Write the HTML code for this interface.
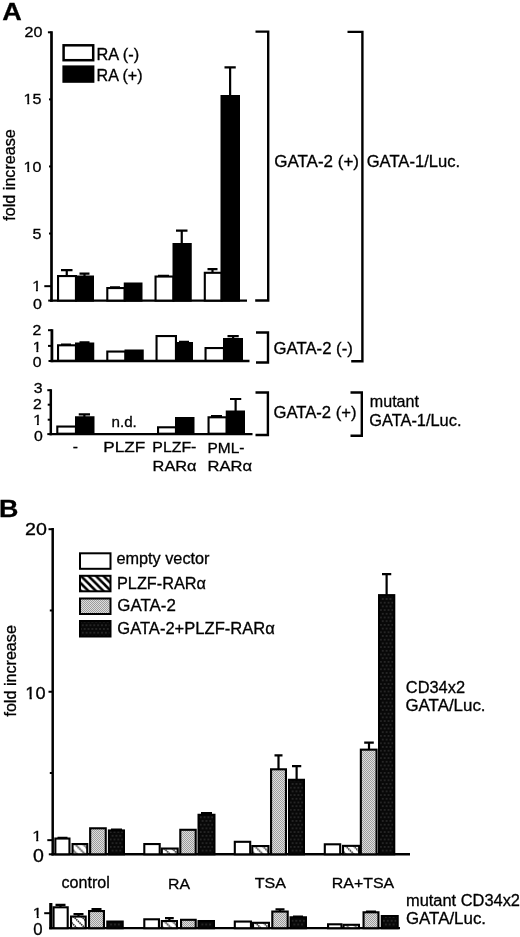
<!DOCTYPE html>
<html><head><meta charset="utf-8"><title>Figure</title>
<style>
html,body{margin:0;padding:0;background:#fff}
svg{display:block}
text{font-family:"Liberation Sans",Arial,Helvetica,sans-serif;fill:#000;stroke:#000;stroke-width:0.3px}
</style></head><body>
<svg width="520" height="937" viewBox="0 0 520 937">
<defs>
<pattern id="hatch" width="7.5" height="7.5" patternUnits="userSpaceOnUse">
<rect width="7.5" height="7.5" fill="#fff"/>
<path d="M-3.75 -3.75L11.25 11.25M-3.75 3.75L3.75 11.25M3.75 -3.75L11.25 3.75" stroke="#000" stroke-width="2.55"/>
</pattern>
<pattern id="hatch2" width="8" height="8" patternUnits="userSpaceOnUse">
<rect width="8" height="8" fill="#fff"/>
<path d="M-2 -2L10 10M-2 6L2 10M6 -2L10 2" stroke="#1a1a1a" stroke-width="1.5" stroke-dasharray="1.6 0.7"/>
</pattern>
<pattern id="gray" width="2" height="2" patternUnits="userSpaceOnUse">
<rect width="2" height="2" fill="#dedede"/>
<rect width="1" height="1" fill="#9c9c9c"/><rect x="1" y="1" width="1" height="1" fill="#9c9c9c"/>
</pattern>
<pattern id="dark" width="3.85" height="7.4" patternUnits="userSpaceOnUse">
<rect width="3.85" height="7.4" fill="#080808"/>
<rect x="1.35" y="3.15" width="1.1" height="1.05" fill="#606060"/>
<rect x="-0.58" y="6.85" width="1.1" height="1.05" fill="#606060"/><rect x="3.27" y="6.85" width="1.1" height="1.05" fill="#606060"/>
<rect x="-0.58" y="-0.55" width="1.1" height="1.05" fill="#606060"/><rect x="3.27" y="-0.55" width="1.1" height="1.05" fill="#606060"/>
</pattern>
</defs>
<rect width="520" height="937" fill="#fff"/>

<text transform="translate(2.2 19.7) scale(1.09 1)" font-size="24.8" font-weight="bold">A</text>
<path d="M51.5 31.3V301.80" stroke="#000" stroke-width="2.7" fill="none"/>
<path d="M50.15 300.6H247" stroke="#000" stroke-width="2.4" fill="none"/>
<path d="M47.9 32.30000000000001H51.5" stroke="#000" stroke-width="2"/>
<path d="M49 99.375H51.5" stroke="#000" stroke-width="2"/>
<path d="M49 166.45000000000002H51.5" stroke="#000" stroke-width="2"/>
<path d="M49 233.52500000000003H51.5" stroke="#000" stroke-width="2"/>
<path d="M44.3 286.178875H51.5" stroke="#000" stroke-width="2"/>
<path d="M48.2 300.6H51.5" stroke="#000" stroke-width="2"/>
<text transform="translate(42.4 37.4) scale(1.13 1)" font-size="14.2" text-anchor="end">20</text>
<clipPath id="c1"><rect x="-142.00" y="-14.20" width="156.20" height="11.83"/><rect x="-7.90" y="-2.87" width="7.90" height="3.87"/><rect x="-12.46" y="-2.87" width="1.70" height="3.87"/></clipPath>
<text transform="translate(41.4 104.3) scale(1.13 1)" font-size="14.2" text-anchor="end" clip-path="url(#c1)">15</text>
<clipPath id="c2"><rect x="-142.00" y="-14.20" width="156.20" height="11.83"/><rect x="-7.90" y="-2.87" width="7.90" height="3.87"/><rect x="-12.46" y="-2.87" width="1.70" height="3.87"/></clipPath>
<text transform="translate(41.4 171.6) scale(1.13 1)" font-size="14.2" text-anchor="end" clip-path="url(#c2)">10</text>
<text transform="translate(41.3 239.1) scale(1.13 1)" font-size="14.2" text-anchor="end">5</text>
<clipPath id="c3"><rect x="-142.00" y="-14.20" width="156.20" height="11.83"/><rect x="-4.56" y="-2.87" width="1.70" height="3.87"/></clipPath>
<text transform="translate(41.1 291.4) scale(1.13 1)" font-size="14.2" text-anchor="end" clip-path="url(#c3)">1</text>
<text transform="translate(41.8 309.0) scale(1.13 1)" font-size="14.2" text-anchor="end">0</text>
<rect x="58.05" y="276.05" width="17.90" height="24.55" fill="#fff" stroke="#000" stroke-width="2.1"/>
<path d="M66.75 276.00V270.00M61.00 270.10H72.50" stroke="#000" stroke-width="2.2" fill="none"/>
<rect x="76.05" y="276.55" width="16.90" height="24.05" fill="#000" stroke="#000" stroke-width="2.1"/>
<path d="M84.50 276.50V273.50M79.50 273.60H89.50" stroke="#000" stroke-width="2.2" fill="none"/>
<rect x="107.30" y="288.05" width="17.40" height="12.55" fill="#fff" stroke="#000" stroke-width="2.1"/>
<path d="M115.00 288.00V287.30M110.00 287.40H120.00" stroke="#000" stroke-width="2.2" fill="none"/>
<rect x="124.80" y="283.55" width="16.65" height="17.05" fill="#000" stroke="#000" stroke-width="2.1"/>
<rect x="155.55" y="276.55" width="17.90" height="24.05" fill="#fff" stroke="#000" stroke-width="2.1"/>
<path d="M163.50 276.50V275.80M158.00 275.90H169.00" stroke="#000" stroke-width="2.2" fill="none"/>
<rect x="173.55" y="244.05" width="17.15" height="56.55" fill="#000" stroke="#000" stroke-width="2.1"/>
<path d="M181.75 244.00V230.50M176.00 230.60H187.50" stroke="#000" stroke-width="2.2" fill="none"/>
<rect x="204.80" y="272.80" width="16.90" height="27.80" fill="#fff" stroke="#000" stroke-width="2.1"/>
<path d="M212.50 272.75V269.00M207.50 269.10H217.50" stroke="#000" stroke-width="2.2" fill="none"/>
<rect x="221.55" y="96.05" width="17.40" height="204.55" fill="#000" stroke="#000" stroke-width="2.1"/>
<path d="M230.12 96.00V67.25M224.50 67.35H235.75" stroke="#000" stroke-width="2.2" fill="none"/>
<rect x="63.6" y="45.3" width="29.6" height="14.9" fill="#fff" stroke="#000" stroke-width="2.5"/>
<rect x="62.4" y="65.4" width="32" height="17.4" fill="#000"/>
<text x="96.50" y="60.10" font-size="15.6" textLength="42.70" lengthAdjust="spacingAndGlyphs">RA (-)</text>
<text x="96.50" y="80.60" font-size="15.6" textLength="46.10" lengthAdjust="spacingAndGlyphs">RA (+)</text>
<text transform="translate(15.0 220.7) rotate(-90)" font-size="16" textLength="91.5" lengthAdjust="spacingAndGlyphs">fold increase</text>
<path d="M51.9 329.2V362.15" stroke="#000" stroke-width="2.8" fill="none"/>
<path d="M50.50 361.0H249.5" stroke="#000" stroke-width="2.3" fill="none"/>
<path d="M48 330.2H51.9" stroke="#000" stroke-width="2"/>
<path d="M48 345.9H51.9" stroke="#000" stroke-width="2"/>
<path d="M48.5 361.0H51.9" stroke="#000" stroke-width="2"/>
<text transform="translate(41.3 335.1) scale(1.13 1)" font-size="14.0" text-anchor="end">2</text>
<clipPath id="c4"><rect x="-140.00" y="-14.00" width="154.00" height="11.65"/><rect x="-4.50" y="-2.85" width="1.68" height="3.85"/></clipPath>
<text transform="translate(41.5 351.8) scale(1.13 1)" font-size="14.0" text-anchor="end" clip-path="url(#c4)">1</text>
<text transform="translate(41.5 366.8) scale(1.13 1)" font-size="14.0" text-anchor="end">0</text>
<rect x="58.05" y="345.30" width="17.90" height="15.40" fill="#fff" stroke="#000" stroke-width="2.1"/>
<path d="M66.00 345.25V344.60M61.00 344.70H71.00" stroke="#000" stroke-width="2.2" fill="none"/>
<rect x="76.05" y="343.55" width="17.15" height="17.15" fill="#000" stroke="#000" stroke-width="2.1"/>
<path d="M84.50 343.50V342.30M79.50 342.40H89.50" stroke="#000" stroke-width="2.2" fill="none"/>
<rect x="107.30" y="351.55" width="18.15" height="9.15" fill="#fff" stroke="#000" stroke-width="2.1"/>
<rect x="125.55" y="350.55" width="17.15" height="10.15" fill="#000" stroke="#000" stroke-width="2.1"/>
<rect x="156.55" y="336.05" width="19.40" height="24.65" fill="#fff" stroke="#000" stroke-width="2.1"/>
<rect x="176.05" y="343.05" width="15.90" height="17.65" fill="#000" stroke="#000" stroke-width="2.1"/>
<path d="M184.00 343.00V341.80M179.00 341.90H189.00" stroke="#000" stroke-width="2.2" fill="none"/>
<rect x="205.55" y="348.05" width="18.40" height="12.65" fill="#fff" stroke="#000" stroke-width="2.1"/>
<rect x="224.05" y="339.05" width="17.90" height="21.65" fill="#000" stroke="#000" stroke-width="2.1"/>
<path d="M233.12 339.00V336.00M227.50 336.10H238.75" stroke="#000" stroke-width="2.2" fill="none"/>
<path d="M50.8 389.2V435.25" stroke="#000" stroke-width="2.5" fill="none"/>
<path d="M49.55 434.09999999999997H252.5" stroke="#000" stroke-width="2.3" fill="none"/>
<path d="M47.3 390.2H50.8" stroke="#000" stroke-width="2"/>
<path d="M47.7 404.7H50.8" stroke="#000" stroke-width="2"/>
<path d="M47.7 419.7H50.8" stroke="#000" stroke-width="2"/>
<path d="M47.3 434.09999999999997H50.8" stroke="#000" stroke-width="2"/>
<text transform="translate(42.5 392.6) scale(1.13 1)" font-size="14.0" text-anchor="end">3</text>
<text transform="translate(41.8 409.2) scale(1.13 1)" font-size="14.0" text-anchor="end">2</text>
<clipPath id="c5"><rect x="-140.00" y="-14.00" width="154.00" height="11.65"/><rect x="-4.50" y="-2.85" width="1.68" height="3.85"/></clipPath>
<text transform="translate(42.0 424.6) scale(1.13 1)" font-size="14.0" text-anchor="end" clip-path="url(#c5)">1</text>
<text transform="translate(42.9 441.3) scale(1.13 1)" font-size="14.0" text-anchor="end">0</text>
<rect x="57.30" y="426.55" width="18.65" height="7.15" fill="#fff" stroke="#000" stroke-width="2.1"/>
<rect x="76.05" y="417.30" width="17.40" height="16.40" fill="#000" stroke="#000" stroke-width="2.1"/>
<path d="M84.38 417.25V414.25M78.75 414.35H90.00" stroke="#000" stroke-width="2.2" fill="none"/>
<rect x="158.05" y="427.30" width="17.90" height="6.40" fill="#fff" stroke="#000" stroke-width="2.1"/>
<rect x="176.05" y="418.05" width="17.40" height="15.65" fill="#000" stroke="#000" stroke-width="2.1"/>
<rect x="208.55" y="417.30" width="18.15" height="16.40" fill="#fff" stroke="#000" stroke-width="2.1"/>
<path d="M216.50 417.25V416.00M211.00 416.10H222.00" stroke="#000" stroke-width="2.2" fill="none"/>
<rect x="226.80" y="411.55" width="17.15" height="22.15" fill="#000" stroke="#000" stroke-width="2.1"/>
<path d="M235.62 411.50V398.90M230.00 399.00H241.25" stroke="#000" stroke-width="2.2" fill="none"/>
<text x="111.50" y="427.20" font-size="15" textLength="25.30" lengthAdjust="spacingAndGlyphs">n.d.</text>
<text x="72.80" y="452.30" font-size="15" textLength="5.20" lengthAdjust="spacingAndGlyphs">-</text>
<text x="103.20" y="452.40" font-size="15.1" textLength="42.00" lengthAdjust="spacingAndGlyphs">PLZF</text>
<text x="152.30" y="452.40" font-size="15.1" textLength="44.10" lengthAdjust="spacingAndGlyphs">PLZF-</text>
<text x="152.60" y="471.00" font-size="15.1" textLength="44.00" lengthAdjust="spacingAndGlyphs">RARα</text>
<text x="207.50" y="452.60" font-size="15.1" textLength="37.00" lengthAdjust="spacingAndGlyphs">PML-</text>
<text x="207.50" y="471.00" font-size="15.1" textLength="44.50" lengthAdjust="spacingAndGlyphs">RARα</text>
<path d="M255.5 31.6L268.2 31.6L268.2 300.5L255.2 300.5" stroke="#000" stroke-width="2.4" fill="none"/>
<path d="M256 332.5L268 332.5L268 362.5L256 362.5" stroke="#000" stroke-width="2.4" fill="none"/>
<path d="M255.5 392.5L267.9 392.5L267.9 435L255.5 435" stroke="#000" stroke-width="2.4" fill="none"/>
<path d="M347.5 31.9L362.4 31.9L362.4 361.2L351.2 361.2" stroke="#000" stroke-width="2.4" fill="none"/>
<path d="M350.5 392.5L361.8 392.5L361.8 435.8L350.5 435.8" stroke="#000" stroke-width="2.4" fill="none"/>
<text x="274.20" y="166.80" font-size="16.3" textLength="84.80" lengthAdjust="spacingAndGlyphs">GATA-2 (+)</text>
<text x="366.70" y="167.00" font-size="16.3" textLength="93.50" lengthAdjust="spacingAndGlyphs">GATA-1/Luc.</text>
<text x="273.50" y="354.20" font-size="16.3" textLength="79.30" lengthAdjust="spacingAndGlyphs">GATA-2 (-)</text>
<text x="273.50" y="417.50" font-size="16.3" textLength="83.00" lengthAdjust="spacingAndGlyphs">GATA-2 (+)</text>
<text x="369.80" y="406.80" font-size="16.3" textLength="49.20" lengthAdjust="spacingAndGlyphs">mutant</text>
<text x="369.20" y="425.80" font-size="16.3" textLength="92.30" lengthAdjust="spacingAndGlyphs">GATA-1/Luc.</text>
<text transform="translate(-1.0 516.9) scale(1.1 1)" font-size="24.4" font-weight="bold">B</text>
<path d="M52.7 528V855.55" stroke="#000" stroke-width="2.5" fill="none"/>
<path d="M51.45 854.3H410" stroke="#000" stroke-width="2.5" fill="none"/>
<path d="M48.5 529.2H52.7" stroke="#000" stroke-width="2"/>
<path d="M49.8 610.475H52.7" stroke="#000" stroke-width="2"/>
<path d="M48.5 691.75H52.7" stroke="#000" stroke-width="2"/>
<path d="M49.8 773.025H52.7" stroke="#000" stroke-width="2"/>
<path d="M47.3 840.15815H52.7" stroke="#000" stroke-width="2"/>
<path d="M48.8 854.3H52.7" stroke="#000" stroke-width="2"/>
<text transform="translate(46.9 534.6) scale(1.13 1)" font-size="17.4" text-anchor="end">20</text>
<clipPath id="c6"><rect x="-173.00" y="-17.30" width="190.30" height="14.70"/><rect x="-9.62" y="-3.10" width="9.62" height="4.10"/><rect x="-15.18" y="-3.10" width="2.08" height="4.10"/></clipPath>
<text transform="translate(45.5 699.0) scale(1.05 1)" font-size="17.3" text-anchor="end" clip-path="url(#c6)">10</text>
<clipPath id="c7"><rect x="-148.00" y="-14.80" width="162.80" height="12.39"/><rect x="-4.75" y="-2.91" width="1.78" height="3.91"/></clipPath>
<text transform="translate(41.7 840.9) scale(1.15 1)" font-size="14.8" text-anchor="end" clip-path="url(#c7)">1</text>
<text transform="translate(43.9 861.8) scale(1.11 1)" font-size="17.6" text-anchor="end">0</text>
<text transform="translate(15.5 716.6) rotate(-90)" font-size="16.2" textLength="91.5" lengthAdjust="spacingAndGlyphs">fold increase</text>
<rect x="80" y="553.3" width="30.5" height="15.5" fill="#fff" stroke="#000" stroke-width="2"/>
<rect x="80" y="575.8" width="30.5" height="15.5" fill="url(#hatch)" stroke="#000" stroke-width="2"/>
<rect x="80" y="598.5" width="30.5" height="15.5" fill="url(#gray)" stroke="#000" stroke-width="2"/>
<rect x="80" y="621" width="30.5" height="15.5" fill="url(#dark)" stroke="#000" stroke-width="2"/>
<text x="116.50" y="563.80" font-size="16.2" textLength="93.00" lengthAdjust="spacingAndGlyphs">empty vector</text>
<text x="117.00" y="588.80" font-size="16.2" textLength="89.00" lengthAdjust="spacingAndGlyphs">PLZF-RARα</text>
<text x="117.30" y="611.30" font-size="16.2" textLength="58.50" lengthAdjust="spacingAndGlyphs">GATA-2</text>
<text x="117.30" y="633.80" font-size="16.2" textLength="157.50" lengthAdjust="spacingAndGlyphs">GATA-2+PLZF-RARα</text>
<rect x="55.35" y="838.55" width="14.10" height="15.75" fill="#fff" stroke="#000" stroke-width="2.1"/>
<path d="M62.50 838.50V837.80M57.50 837.90H67.50" stroke="#000" stroke-width="2.2" fill="none"/>
<pattern id="hh1" href="#hatch2" x="76.50" y="845.60"/>
<rect x="72.55" y="844.05" width="14.70" height="10.25" fill="url(#hh1)" stroke="#000" stroke-width="2.1"/>
<rect x="90.15" y="828.30" width="15.60" height="26.00" fill="url(#gray)" stroke="#000" stroke-width="2.1"/>
<pattern id="dk2" href="#dark" x="114.53" y="854.30"/>
<rect x="108.95" y="830.45" width="15.00" height="23.85" fill="url(#dk2)" stroke="#000" stroke-width="2.1"/>
<path d="M116.50 830.40V829.60M111.00 829.70H122.00" stroke="#000" stroke-width="2.2" fill="none"/>
<rect x="144.30" y="844.05" width="15.40" height="10.25" fill="#fff" stroke="#000" stroke-width="2.1"/>
<pattern id="hh3" href="#hatch2" x="165.75" y="850.10"/>
<rect x="161.80" y="848.55" width="15.90" height="5.75" fill="url(#hh3)" stroke="#000" stroke-width="2.1"/>
<rect x="180.30" y="829.80" width="15.40" height="24.50" fill="url(#gray)" stroke="#000" stroke-width="2.1"/>
<pattern id="dk4" href="#dark" x="204.57" y="854.30"/>
<rect x="198.55" y="814.80" width="15.90" height="39.50" fill="url(#dk4)" stroke="#000" stroke-width="2.1"/>
<path d="M206.50 814.75V813.00M201.00 813.10H212.00" stroke="#000" stroke-width="2.2" fill="none"/>
<rect x="234.80" y="841.80" width="15.40" height="12.50" fill="#fff" stroke="#000" stroke-width="2.1"/>
<pattern id="hh5" href="#hatch2" x="256.25" y="847.60"/>
<rect x="252.30" y="846.05" width="16.15" height="8.25" fill="url(#hh5)" stroke="#000" stroke-width="2.1"/>
<rect x="271.05" y="769.30" width="14.90" height="85.00" fill="url(#gray)" stroke="#000" stroke-width="2.1"/>
<path d="M278.50 769.25V755.25M274.50 755.35H282.50" stroke="#000" stroke-width="2.2" fill="none"/>
<pattern id="dk6" href="#dark" x="294.57" y="854.30"/>
<rect x="289.05" y="779.80" width="14.90" height="74.50" fill="url(#dk6)" stroke="#000" stroke-width="2.1"/>
<path d="M296.62 779.75V766.00M292.00 766.10H301.25" stroke="#000" stroke-width="2.2" fill="none"/>
<rect x="324.80" y="844.30" width="15.40" height="10.00" fill="#fff" stroke="#000" stroke-width="2.1"/>
<pattern id="hh7" href="#hatch2" x="347.00" y="847.40"/>
<rect x="343.05" y="845.85" width="16.10" height="8.45" fill="url(#hh7)" stroke="#000" stroke-width="2.1"/>
<rect x="360.85" y="749.65" width="15.70" height="104.65" fill="url(#gray)" stroke="#000" stroke-width="2.1"/>
<path d="M369.00 749.60V742.60M364.20 742.70H373.80" stroke="#000" stroke-width="2.2" fill="none"/>
<pattern id="dk8" href="#dark" x="384.72" y="854.30"/>
<rect x="379.05" y="595.15" width="15.20" height="259.15" fill="url(#dk8)" stroke="#000" stroke-width="2.1"/>
<path d="M386.62 595.10V574.00M382.00 574.10H391.25" stroke="#000" stroke-width="2.2" fill="none"/>
<text x="61.50" y="887.60" font-size="16" textLength="48.30" lengthAdjust="spacingAndGlyphs">control</text>
<text x="168.00" y="888.50" font-size="15" textLength="22.00" lengthAdjust="spacingAndGlyphs">RA</text>
<text x="254.80" y="887.80" font-size="15" textLength="31.20" lengthAdjust="spacingAndGlyphs">TSA</text>
<text x="331.80" y="888.00" font-size="15" textLength="62.40" lengthAdjust="spacingAndGlyphs">RA+TSA</text>
<text x="405.80" y="692.50" font-size="16" textLength="59.20" lengthAdjust="spacingAndGlyphs">CD34x2</text>
<text x="405.50" y="711.30" font-size="16" textLength="80.00" lengthAdjust="spacingAndGlyphs">GATA/Luc.</text>
<text x="406.00" y="905.80" font-size="16" textLength="114.00" lengthAdjust="spacingAndGlyphs">mutant CD34x2</text>
<text x="406.00" y="924.30" font-size="16" textLength="80.00" lengthAdjust="spacingAndGlyphs">GATA/Luc.</text>
<path d="M50.8 903V929.35" stroke="#000" stroke-width="3.2" fill="none"/>
<path d="M49.20 928.2H400" stroke="#000" stroke-width="2.3" fill="none"/>
<path d="M44.2 913.2H50.8" stroke="#000" stroke-width="2"/>
<clipPath id="c8"><rect x="-143.00" y="-14.30" width="157.30" height="11.93"/><rect x="-4.59" y="-2.87" width="1.72" height="3.87"/></clipPath>
<text transform="translate(42.0 917.6) scale(1.15 1)" font-size="14.3" text-anchor="end" clip-path="url(#c8)">1</text>
<text transform="translate(42.6 935.4) scale(1.0 1)" font-size="16.8" text-anchor="end">0</text>
<rect x="53.55" y="907.30" width="14.15" height="20.90" fill="#fff" stroke="#000" stroke-width="2.1"/>
<path d="M60.50 907.25V904.75M55.50 904.85H65.50" stroke="#000" stroke-width="2.2" fill="none"/>
<pattern id="hh9" href="#hatch2" x="75.00" y="918.10"/>
<rect x="71.05" y="916.55" width="14.65" height="11.65" fill="url(#hh9)" stroke="#000" stroke-width="2.1"/>
<path d="M78.50 916.50V914.00M73.50 914.10H83.50" stroke="#000" stroke-width="2.2" fill="none"/>
<rect x="89.05" y="911.05" width="14.90" height="17.15" fill="url(#gray)" stroke="#000" stroke-width="2.1"/>
<path d="M96.50 911.00V909.00M91.50 909.10H101.50" stroke="#000" stroke-width="2.2" fill="none"/>
<pattern id="dk10" href="#dark" x="113.08" y="928.20"/>
<rect x="107.30" y="921.55" width="15.40" height="6.65" fill="url(#dk10)" stroke="#000" stroke-width="2.1"/>
<rect x="144.30" y="919.30" width="14.65" height="8.90" fill="#fff" stroke="#000" stroke-width="2.1"/>
<pattern id="hh11" href="#hatch2" x="165.75" y="922.60"/>
<rect x="161.80" y="921.05" width="15.15" height="7.15" fill="url(#hh11)" stroke="#000" stroke-width="2.1"/>
<path d="M169.38 921.00V918.00M165.00 918.10H173.75" stroke="#000" stroke-width="2.2" fill="none"/>
<rect x="181.05" y="919.80" width="14.65" height="8.40" fill="url(#gray)" stroke="#000" stroke-width="2.1"/>
<pattern id="dk12" href="#dark" x="204.32" y="928.20"/>
<rect x="198.55" y="921.05" width="15.40" height="7.15" fill="url(#dk12)" stroke="#000" stroke-width="2.1"/>
<rect x="234.80" y="921.55" width="16.15" height="6.65" fill="#fff" stroke="#000" stroke-width="2.1"/>
<pattern id="hh13" href="#hatch2" x="257.00" y="924.35"/>
<rect x="253.05" y="922.80" width="15.90" height="5.40" fill="url(#hh13)" stroke="#000" stroke-width="2.1"/>
<rect x="272.30" y="911.55" width="15.40" height="16.65" fill="url(#gray)" stroke="#000" stroke-width="2.1"/>
<path d="M280.00 911.50V909.25M275.50 909.35H284.50" stroke="#000" stroke-width="2.2" fill="none"/>
<pattern id="dk14" href="#dark" x="296.32" y="928.20"/>
<rect x="290.55" y="917.30" width="15.40" height="10.90" fill="url(#dk14)" stroke="#000" stroke-width="2.1"/>
<path d="M298.00 917.25V916.50M293.00 916.60H303.00" stroke="#000" stroke-width="2.2" fill="none"/>
<rect x="328.05" y="924.30" width="13.40" height="3.90" fill="#fff" stroke="#000" stroke-width="2.1"/>
<pattern id="hh15" href="#hatch2" x="347.50" y="926.35"/>
<rect x="343.55" y="924.80" width="15.40" height="3.40" fill="url(#hh15)" stroke="#000" stroke-width="2.1"/>
<rect x="363.55" y="912.30" width="14.90" height="15.90" fill="url(#gray)" stroke="#000" stroke-width="2.1"/>
<path d="M371.00 912.25V911.50M366.00 911.60H376.00" stroke="#000" stroke-width="2.2" fill="none"/>
<pattern id="dk16" href="#dark" x="387.82" y="928.20"/>
<rect x="381.80" y="916.05" width="15.90" height="12.15" fill="url(#dk16)" stroke="#000" stroke-width="2.1"/>
</svg></body></html>
